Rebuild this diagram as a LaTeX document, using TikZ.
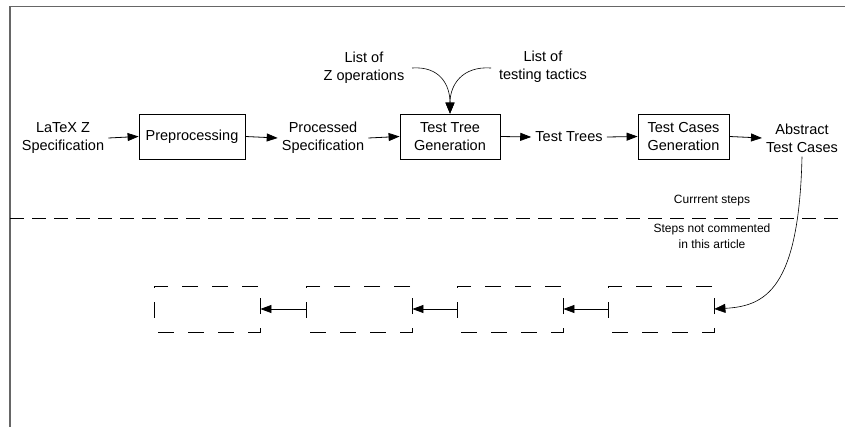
\documentclass[tikz,border=0pt]{standalone}
\usepackage{fontspec}
\setmainfont{Liberation Sans}
\usetikzlibrary{arrows.meta}
\begin{document}
\begin{tikzpicture}[x=1pt,y=-1pt,
  every node/.style={font=\fontsize{14.5}{18}\selectfont, align=center, inner sep=4pt},
  procbox/.style={draw, line width=0.8pt, minimum height=45pt, inner sep=3pt},
  futbox/.style={draw, line width=0.8pt, dash pattern=on 16pt off 14pt, dash phase=-4pt, minimum width=106pt, minimum height=46pt, inner sep=0pt},
  small/.style={font=\fontsize{12}{16}\selectfont},
  flow/.style={line width=0.8pt, -{Triangle[length=11pt,width=8pt]}},
  curvy/.style={line width=0.6pt, -{Triangle[length=11pt,width=9pt]}},
]
\useasboundingbox (0,0) rectangle (845,427);
% frame
\draw[line width=1.5pt, gray!80!black] (10,427) -- (10,6.5) -- (845,6.5);
% separator
\draw[line width=0.8pt, dash pattern=on 14pt off 8pt] (10,218) -- (845,218);

% top row
\node (latex) at (63,138) {LaTeX Z\\Specification};
\node[procbox, minimum width=106pt] (pre) at (192,136.5) {Preprocessing};
\node (proc) at (323,138) {Processed\\Specification};
\node[procbox, minimum width=100pt] (ttg) at (450,136.5) {Test Tree\\Generation};
\node (tt) at (569,137) {Test Trees};
\node[procbox, minimum width=91pt] (tcg) at (683.5,136.5) {Test Cases\\Generation};
\node (atc) at (802,138) {Abstract\\Test Cases};

\node (zops) at (364,68) {List of\\Z operations};
\node (tact) at (543,67) {List of\\testing tactics};

\node[small] (cur) at (712,201) {Currrent steps};
\node[small] (notc) at (712,236) {Steps not commented\\in this article};

\draw[flow] (latex.east) -- (pre.west);
\draw[flow] (pre.east) -- (proc.west);
\draw[flow] (proc.east) -- (ttg.west);
\draw[flow] (ttg.east) -- (tt.west);
\draw[flow] (tt.east) -- (tcg.west);
\draw[flow] (tcg.east) -- (atc.west);

\coordinate (zend) at (412,68);
\coordinate (tend) at (491,68);
\draw[curvy] (zend) .. controls (440,66) and (450,85) .. (ttg.north);
\draw[curvy] (tend) .. controls (462,66) and (450,85) .. (ttg.north);

% future steps
\node[futbox] (f1) at (207,309) {};
\node[futbox] (f2) at (359,309) {};
\node[futbox] (f3) at (510,309) {};
\node[futbox] (f4) at (661,309) {};
\draw[flow] (f2.west) -- (f1.east);
\draw[flow] (f3.west) -- (f2.east);
\draw[flow] (f4.west) -- (f3.east);
\draw[curvy] (atc.south) .. controls (799,290) and (765,306) .. (f4.east);
\end{tikzpicture}
\end{document}
